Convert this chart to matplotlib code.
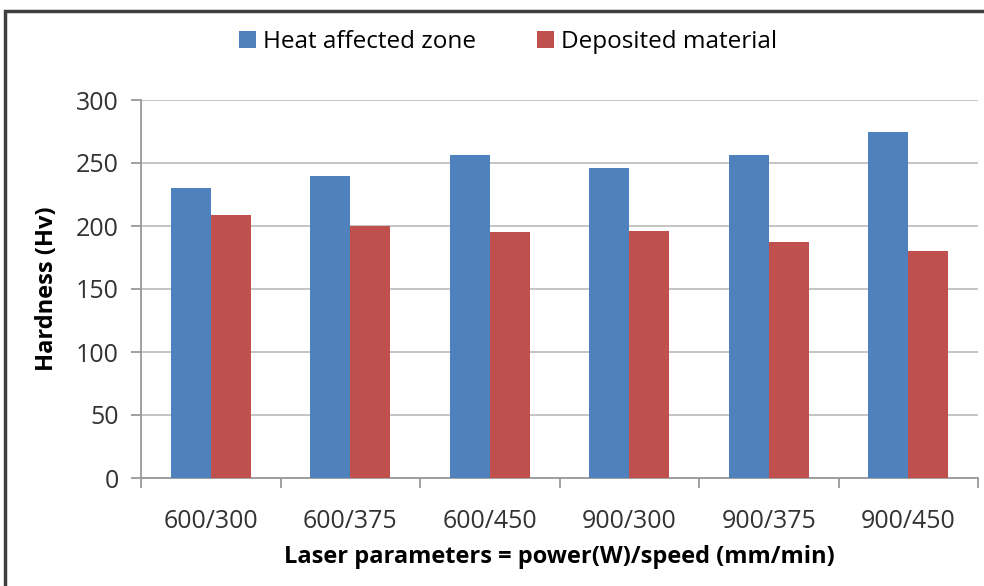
import numpy as np
import matplotlib
matplotlib.use("Agg")
import matplotlib.pyplot as plt
from matplotlib.patches import Rectangle

categories = ["600/300", "600/375", "600/450", "900/300", "900/375", "900/450"]
haz = [230, 240, 256, 246, 256, 275]
deposited = [209, 200, 195, 196, 187, 180]
series_names = ["Heat affected zone", "Deposited material"]
yticks = [0, 50, 100, 150, 200, 250, 300]

plt.rcParams['font.family'] = ['Open Sans', 'DejaVu Sans']

W, H = 984, 586
fig = plt.figure(figsize=(W / 100, H / 100), dpi=100)
ax = fig.add_axes([141 / W, 1 - 478 / H, (978 - 141) / W, (478 - 100) / H])

x = np.arange(len(categories))
bw = 0.285
ax.bar(x - bw / 2, haz, bw, color="#4F81BD", label=series_names[0], zorder=3)
ax.bar(x + bw / 2, deposited, bw, color="#C0504D", label=series_names[1], zorder=3)

ax.set_xlim(-0.5, len(categories) - 0.5)
ax.set_ylim(0, 300)
ax.set_yticks(yticks)
ax.yaxis.grid(True, color="#BFBFBF", linewidth=1.3, zorder=0)
ax.set_xticks(x)
ax.set_xticklabels(categories, fontsize=18, color="#333333")
ax.tick_params(axis="x", length=0, pad=22)
ax.set_xticks(np.arange(len(categories) + 1) - 0.5, minor=True)
ax.tick_params(axis="x", which="minor", length=7, color="#999999", width=1.3)
ax.tick_params(axis="y", length=7, color="#999999", width=1.3, labelsize=18,
               labelcolor="#333333", pad=9)
for s in ["top", "right"]:
    ax.spines[s].set_visible(False)
for s in ["left", "bottom"]:
    ax.spines[s].set_color("#999999")
    ax.spines[s].set_linewidth(1.3)

ax.set_ylabel("Hardness (Hv)", fontsize=17, fontweight="bold", labelpad=12)
ax.set_xlabel("Laser parameters = power(W)/speed (mm/min)", fontsize=17,
              fontweight="bold", labelpad=8)

fig.legend(loc="center", bbox_to_anchor=(508 / W, 1 - 42 / H), ncol=2,
           frameon=False, fontsize=17.5, handlelength=0.7, handleheight=0.7,
           handletextpad=0.3, columnspacing=2.5)

fig.patches.append(Rectangle((5 / W, -0.1), 1.2, 1 - 11 / H + 0.1,
                             transform=fig.transFigure, fill=False,
                             edgecolor="#404040", linewidth=2.5))

fig.savefig("out.png", dpi=100)
